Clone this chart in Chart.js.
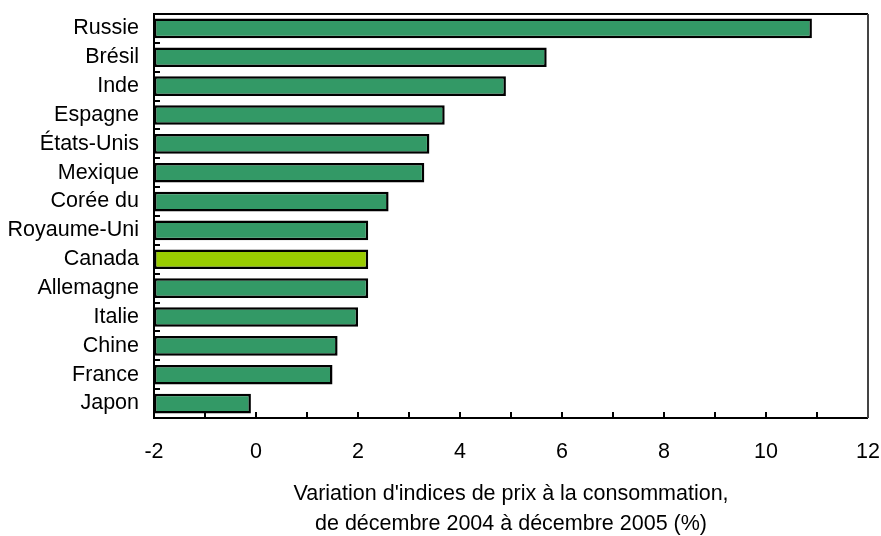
<!DOCTYPE html>
<html>
<head>
<meta charset="utf-8">
<script src="https://cdn.jsdelivr.net/npm/chart.js@4/dist/chart.umd.min.js"></script>
<style>
  body { margin: 0; background: #fff; }
  canvas { display: block; }
</style>
</head>
<body>
<canvas id="myChart" width="881" height="536"></canvas>
<script>
// data
const countries = ['Russie', 'Brésil', 'Inde', 'Espagne', 'États-Unis', 'Mexique', 'Corée du',
  'Royaume-Uni', 'Canada', 'Allemagne', 'Italie', 'Chine', 'France', 'Japon'];
const cpiChange = [10.9, 5.7, 4.9, 3.7, 3.4, 3.3, 2.6, 2.2, 2.2, 2.2, 2.0, 1.6, 1.5, -0.1];
const highlight = 'Canada';
const axisTitle = ["Variation d'indices de prix à la consommation,", 'de décembre 2004 à décembre 2005 (%)'];
const xMin = -2, xMax = 12, xStep = 2;

const green = '#339966';
const lime = '#99cc00';
const fontFam = '"Liberation Sans", Arial, sans-serif';
const fontSize = 21.5;

// frame + inward tick marks like the original
const framePlugin = {
  id: 'frame',
  afterDraw(chart) {
    const { ctx, chartArea: a, scales } = chart;
    const x = scales.x, y = scales.y;
    ctx.save();
    ctx.lineWidth = 2;
    ctx.strokeStyle = '#000';
    // x ticks (every unit, pointing up)
    for (let v = xMin; v <= xMax; v++) {
      const px = Math.round(x.getPixelForValue(v));
      ctx.beginPath();
      ctx.moveTo(px, a.bottom);
      ctx.lineTo(px, a.bottom - 6);
      ctx.stroke();
    }
    // y ticks between categories (pointing right)
    for (let i = 0; i < countries.length - 1; i++) {
      const py = Math.round((y.getPixelForValue(i) + y.getPixelForValue(i + 1)) / 2);
      ctx.beginPath();
      ctx.moveTo(a.left, py);
      ctx.lineTo(a.left + 6, py);
      ctx.stroke();
    }
    ctx.beginPath();
    ctx.moveTo(a.right, a.top);
    ctx.lineTo(a.left, a.top);
    ctx.lineTo(a.left, a.bottom);
    ctx.lineTo(a.right, a.bottom);
    ctx.stroke();
    ctx.strokeStyle = '#444';
    ctx.beginPath();
    ctx.moveTo(a.right, a.top);
    ctx.lineTo(a.right, a.bottom);
    ctx.stroke();
    ctx.restore();
  }
};

function fixBox(size, dim) {
  return s => {
    s[dim] = size;
    s.paddingTop = s.paddingBottom = s.paddingLeft = s.paddingRight = 0;
  };
}

const ctx = document.getElementById('myChart').getContext('2d');
const myChart = new Chart(ctx, {
  type: 'bar',
  data: {
    labels: countries,
    datasets: [{
      data: cpiChange,
      base: xMin,
      backgroundColor: countries.map(c => c === highlight ? lime : green),
      borderColor: '#000',
      borderWidth: 2.5,
      borderSkipped: false,
      categoryPercentage: 1,
      barPercentage: 0.68
    }]
  },
  options: {
    indexAxis: 'y',
    responsive: false,
    animation: false,
    layout: { padding: { top: 14, right: 13, left: 0, bottom: 0 } },
    plugins: {
      legend: { display: false },
      tooltip: { enabled: false }
    },
    scales: {
      x: {
        type: 'linear',
        min: xMin,
        max: xMax,
        afterFit: fixBox(118, 'height'),
        ticks: {
          stepSize: xStep,
          padding: 21,
          color: '#000',
          font: { family: fontFam, size: fontSize }
        },
        grid: { display: false, drawTicks: false },
        border: { display: false },
        title: {
          display: true,
          text: axisTitle,
          color: '#000',
          padding: { top: 0, bottom: -3 },
          font: { family: fontFam, size: fontSize, lineHeight: 1.4 }
        }
      },
      y: {
        afterFit: fixBox(154, 'width'),
        ticks: {
          autoSkip: false,
          padding: 15,
          color: '#000',
          font: { family: fontFam, size: fontSize }
        },
        grid: { display: false, drawTicks: false },
        border: { display: false }
      }
    }
  },
  plugins: [framePlugin]
});
</script>
</body>
</html>
